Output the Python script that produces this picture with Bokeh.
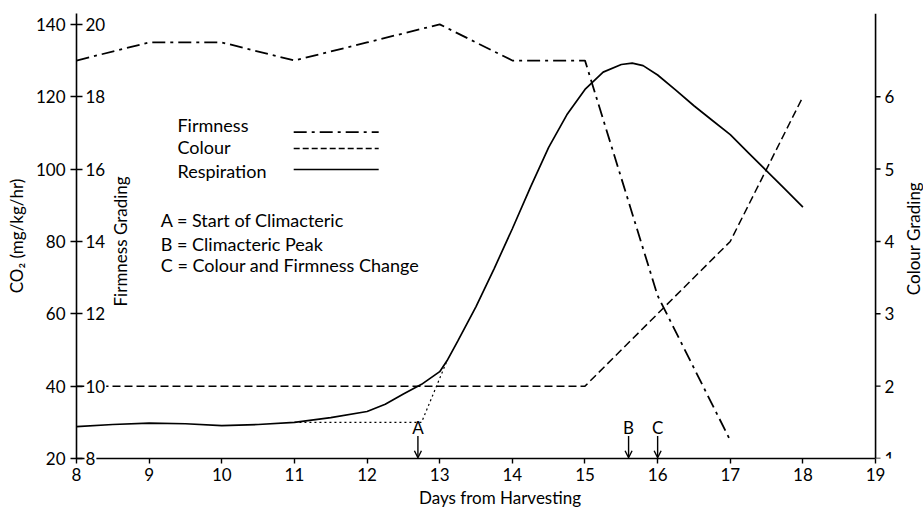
from bokeh.plotting import figure
from bokeh.models import Range1d, FixedTicker, Arrow, OpenHead
from bokeh.embed import file_html
from bokeh.resources import INLINE
from bokeh.core.properties import value

# ---------------- data ----------------
days_firm = [8, 9, 10, 11, 12, 13, 14, 15, 16, 17]
firmness = [19, 19.5, 19.5, 19, 19.5, 20, 19, 19, 12.5, 8.5]

days_colour = [8, 9, 10, 11, 12, 13, 14, 15, 16, 17, 18]
colour = [2, 2, 2, 2, 2, 2, 2, 2, 3, 4, 6]

days_resp = [8.0, 8.5, 9.0, 9.5, 10.0, 10.5, 11.0, 11.5, 12.0, 12.25, 12.5, 12.75,
             13.0, 13.1, 13.25, 13.5, 13.75, 14.0, 14.25, 14.5, 14.75, 15.0, 15.25,
             15.5, 15.65, 15.8, 16.0, 16.25, 16.5, 16.75, 17.0, 17.25, 17.5, 17.75, 18.0]
resp = [28.8, 29.4, 29.8, 29.6, 29.1, 29.4, 30.0, 31.3, 33.0, 35.0, 37.8, 40.5,
        44.0, 47.0, 52.5, 62.0, 72.5, 83.5, 95.0, 106.0, 115.0, 122.0, 126.8,
        128.9, 129.3, 128.6, 126.0, 121.8, 117.5, 113.5, 109.5, 104.5, 99.5, 94.5, 89.5]

# construction line for start of climacteric (CO2 units)
constr_x = [11.0, 12.75, 13.1]
constr_y = [30.0, 30.0, 47.0]

# event markers
event_labels = ["A", "B", "C"]
event_days = [12.7, 15.6, 16.0]

x_ticks = list(range(8, 20))
co2_ticks = [20, 40, 60, 80, 100, 120, 140]
firm_ticks = [8, 10, 12, 14, 16, 18, 20]
colour_ticks = [1, 2, 3, 4, 5, 6]

legend_names = ["Firmness", "Colour", "Respiration"]
notes = ["A = Start of Climacteric", "B = Climacteric Peak", "C = Colour and Firmness Change"]

# ---------------- ranges ----------------
X0, X1, XEND = 8, 19, 19.66
Y0, Y1 = 20, 143.0
C0, C1 = 1, 1 + (Y1 - Y0) / 20.0
FONT = "Lato"

p = figure(width=923, height=512, output_backend="svg", toolbar_location=None,
           x_range=Range1d(X0, XEND), y_range=Range1d(Y0, Y1),
           min_border_left=76, min_border_right=0, min_border_top=13, min_border_bottom=54,
           background_fill_color="white", border_fill_color="white")
p.outline_line_color = None
p.xgrid.visible = False
p.ygrid.visible = False

p.extra_y_ranges = {
    "firm": Range1d(8, 8 + (Y1 - Y0) / 10.0),
    "colour": Range1d(C0, C1),
}

def style_axis(ax):
    ax.axis_line_color = "black"
    ax.axis_line_width = 1.6
    ax.major_tick_line_color = "black"
    ax.major_tick_line_width = 1.4
    ax.minor_tick_line_color = None
    ax.major_label_text_font = FONT
    ax.major_label_text_font_size = "17px"
    ax.major_label_text_color = "black"
    ax.axis_label_text_font = FONT
    ax.axis_label_text_font_size = "17px"
    ax.axis_label_text_font_style = "normal"
    ax.axis_label_text_color = "black"

xa = p.xaxis[0]
xa.ticker = FixedTicker(ticks=x_ticks)
xa.axis_label = "Days from Harvesting"
xa.bounds = (X0, X1)
style_axis(xa)
xa.major_tick_in = 0
xa.major_tick_out = 5
xa.major_label_standoff = 4
xa.axis_label_standoff = 3

ya = p.yaxis[0]
ya.ticker = FixedTicker(ticks=co2_ticks)
ya.axis_label = "CO\u2082 (mg/kg/hr)"
style_axis(ya)
ya.major_tick_in = 6
ya.major_tick_out = 6
ya.major_label_standoff = 5
ya.axis_label_standoff = 6

# ---------------- colour axis at day 19 (drawn with glyphs on the colour scale) ----------------
p.line([X1, X1], [C0, C1], y_range_name="colour", line_color="black", line_width=1.6)
p.ray(x=[X1] * len(colour_ticks), y=colour_ticks, y_range_name="colour", length=5,
      length_units="screen", angle=0, line_color="black", line_width=1.4)
p.text(x=[X1] * len(colour_ticks), y=colour_ticks, text=[str(t) for t in colour_ticks],
       y_range_name="colour", x_offset=9, text_align="left", text_baseline="middle",
       text_font=value(FONT), text_font_size="17px", text_color="black")
p.text(x=[X1], y=[4.04], text=["Colour Grading"], y_range_name="colour", x_offset=38,
       angle=1.5708, text_align="center", text_baseline="middle",
       text_font=value(FONT), text_font_size="17px", text_color="black")

# ---------------- series ----------------
p.line(days_firm, firmness, y_range_name="firm", line_color="black", line_width=1.8,
       line_dash="13 5 3 5")
p.line(days_colour, colour, y_range_name="colour", line_color="black", line_width=1.5,
       line_dash="8 4")
p.line(days_resp, resp, line_color="black", line_width=1.7)
p.line(constr_x, constr_y, line_color="black", line_width=1.2, line_dash="2 3")

# firmness axis labels inside the plot
ft = p.text(x=[8] * len(firm_ticks), y=firm_ticks, text=[str(t) for t in firm_ticks],
            y_range_name="firm", x_offset=8, text_align="left", text_baseline="middle",
            text_font=value(FONT), text_font_size="17px", text_color="black",
            background_fill_color="white", padding=1)
ft.level = "overlay"

p.text(x=[8], y=[14], text=["Firmness Grading"], y_range_name="firm", x_offset=44,
       angle=1.5708, text_align="center", text_baseline="middle",
       text_font=value(FONT), text_font_size="17px", text_color="black")

# legend (manual: label then line sample)
leg_text_x = 9.39
leg_line_x = [10.99, 12.16]
leg_text_y = [112.3, 106.0, 99.6]
leg_line_y = [110.2, 105.7, 99.9]
p.text(x=[leg_text_x] * 3, y=leg_text_y, text=legend_names, text_align="left",
       text_baseline="middle", text_font=value(FONT), text_font_size="18px", text_color="black")
p.line(leg_line_x, [leg_line_y[0]] * 2, line_color="black", line_width=1.8, line_dash="13 5 3 5")
p.line(leg_line_x, [leg_line_y[1]] * 2, line_color="black", line_width=1.5, line_dash="6 3")
p.line(leg_line_x, [leg_line_y[2]] * 2, line_color="black", line_width=1.6)

# notes
p.text(x=[9.16] * 3, y=[85.8, 79.4, 73.6], text=notes, text_align="left",
       text_baseline="middle", text_font=value(FONT), text_font_size="18px", text_color="black")

# event arrows
for lab, d in zip(event_labels, event_days):
    p.add_layout(Arrow(end=OpenHead(size=7, line_width=1.4, line_color="black"),
                       x_start=d, y_start=26.2, x_end=d, y_end=20.2,
                       line_color="black", line_width=1.4))
p.text(x=event_days, y=[28.6] * 3, text=event_labels, text_align="center",
       text_baseline="middle", text_font=value(FONT), text_font_size="17px", text_color="black")

open("out.html", "w").write(file_html(p, INLINE))
